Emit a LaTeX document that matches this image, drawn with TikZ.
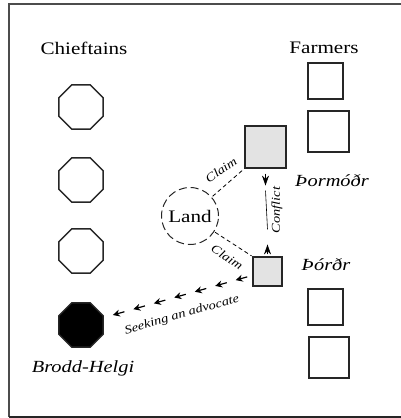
\documentclass[tikz,border=0pt]{standalone}
\usepackage{fontspec}
\setmainfont{Liberation Serif}
\usetikzlibrary{shapes.geometric,arrows.meta,calc}

% the lettering is set a little wider than the font's own width
\newcommand{\widetext}[1]{\scalebox{1.2}[1]{#1}}

\tikzset{
  chief/.style={regular polygon, regular polygon sides=8, minimum size=48pt,
    inner sep=0pt, draw=black!85, line width=1.4pt},
  farmer/.style={rectangle, draw=black!85, line width=1.3pt, inner sep=0pt},
  rival/.style={farmer, fill=black!11, line width=1.1pt},
  heading/.style={font=\fontsize{17.6}{20}\selectfont, inner sep=1pt},
  who/.style={font=\fontsize{17}{20}\selectfont\itshape, inner sep=1pt},
  tag/.style={font=\fontsize{12}{14}\selectfont\itshape, inner sep=0pt},
  claimline/.style={dash pattern=on 4pt off 3pt, line width=0.8pt},
  headtip/.style={-{Stealth[length=10pt,width=7pt]}, line width=0.6pt},
  seektip/.style={-{Stealth[length=7pt,width=7pt]}, line width=1.2pt}
}

\begin{document}
\begin{tikzpicture}[x=1pt, y=-1pt]
\useasboundingbox (0,0) rectangle (400,418);

% frame
\draw[black!70, line width=1.6pt] (402,4) -- (9,4) -- (9,417);
\draw[black!85, line width=2.6pt] (9,417) -- (402,417);

% column headings
\node[heading] (chtitle) at (84,48) {\widetext{Chieftains}};
\node[heading] (fmtitle) at (324,48) {\widetext{Farmers}};

% chieftains
\node[chief] (c1) at (81,107) {};
\node[chief] (c2) at (81,180) {};
\node[chief] (c3) at (81,251) {};
\node[chief, fill=black] (brodd) at (81,325) {};
\node[who] (broddlbl) at (83,368) {\widetext{Brodd-Helgi}};

% farmers
\node[farmer, minimum width=35pt, minimum height=36pt] (f1) at (325.5,81) {};
\node[farmer, minimum width=41pt, minimum height=41pt] (f2) at (328.5,131.5) {};
\node[farmer, minimum width=35pt, minimum height=36pt] (f3) at (325.5,307) {};
\node[farmer, minimum width=40pt, minimum height=41pt] (f4) at (329,357.5) {};

% the two rivals
\node[rival, minimum width=41pt, minimum height=42pt] (thorm) at (265.5,147) {};
\node[who] (thormlbl) at (332,181) {\widetext{Þormóðr}};
\node[rival, minimum width=29pt, minimum height=29pt] (thord) at (267.5,271.5) {};
\node[who] (thordlbl) at (326,265) {\widetext{Þórðr}};

% disputed land
\node[circle, draw=black!85, dash pattern=on 8pt off 4pt, line width=1pt,
  minimum size=57pt, inner sep=0pt] (land) at (190,216) {};
\node[heading] (landlbl) at (190,216) {\widetext{Land}};

% claims
\draw[claimline, shorten <=1pt, shorten >=2pt] (land) -- (thorm.south west);
\node[tag, rotate=35] (claim1) at (221,170) {\widetext{Claim}};
\draw[claimline, shorten <=1pt, shorten >=1pt] (land) -- (thord.north west);
\node[tag, rotate=-33] (claim2) at (227,257) {\widetext{Claim}};

% conflict
\draw[line width=0.6pt] ([yshift=-22pt]thorm.south) -- ([yshift=27pt]thord.north);
\draw[headtip] ([yshift=-5pt]thorm.south) -- ([yshift=-17pt]thorm.south);
\draw[headtip] ([yshift=2pt]thord.north) -- ([yshift=12pt]thord.north);
\node[tag, rotate=90] (conflict) at (277,210) {\widetext{Conflict}};

% seeking an advocate
\coordinate (seekfrom) at ([shift={(-4pt,-5pt)}]thord.west);
\coordinate (seekto) at ([shift={(9pt,10pt)}]brodd.east);
\foreach \k in {0,...,6}{
  \draw[seektip] ($(seekto)!{\k*0.151+0.085}!(seekfrom)$) -- ($(seekto)!{\k*0.151}!(seekfrom)$);
}
\node[tag, rotate=16] (seeking) at (182,315) {\widetext{Seeking an advocate}};
\end{tikzpicture}
\end{document}
